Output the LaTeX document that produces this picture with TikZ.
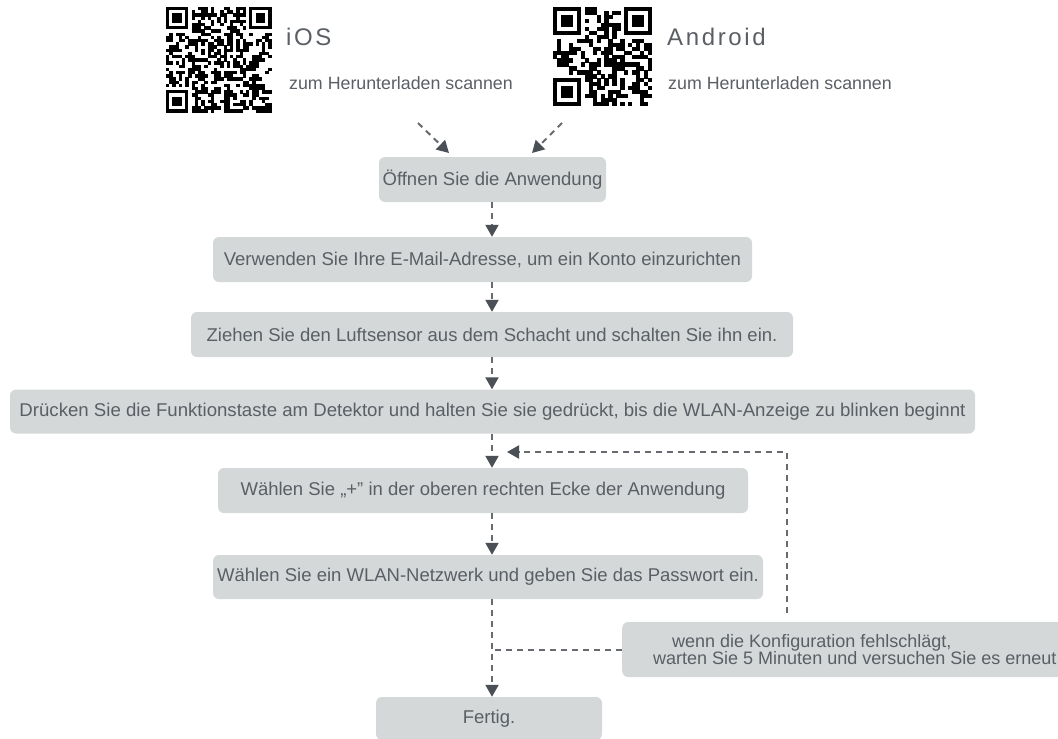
\documentclass[tikz,border=0pt]{standalone}
\usepackage{fontspec}
\setmainfont{Liberation Sans}
\usepackage{graphicx}
\usetikzlibrary{arrows.meta}
\definecolor{boxfill}{HTML}{D5D8D9}
\definecolor{txt}{HTML}{5A5F65}
\definecolor{arr}{HTML}{4B5057}
\definecolor{dashc}{HTML}{676B70}
\tikzset{
  stepbox/.style={fill=boxfill, draw=none, rounded corners=6pt, text=txt,
    font=\fontsize{18.5}{20}\selectfont, inner sep=0pt, anchor=center},
  conn/.style={draw=dashc, line width=2pt, dash pattern=on 6pt off 5pt,
    -{Triangle[width=13pt,length=12pt,color=arr,fill=arr]}},
  plainconn/.style={draw=dashc, line width=2pt, dash pattern=on 6pt off 5pt},
  title/.style={anchor=west, text=txt, inner sep=0pt,
    font=\fontsize{24}{28}\selectfont\addfontfeature{LetterSpace=11}},
  subtitle/.style={anchor=west, text=txt, inner sep=0pt, font=\fontsize{17.8}{20}\selectfont},
}
\newcommand\drawqr[5]{%
  \pgfmathsetseed{#5}%
  \pgfmathtruncatemacro\qrn{#3-1}%
  \foreach \i in {0,...,\qrn}{%
    \foreach \j in {0,...,\qrn}{%
      \pgfmathtruncatemacro\qrf{(\i<8)*(\j<8)+(\i<8)*(\j>\qrn-8)+(\i>\qrn-8)*(\j<8)}%
      \pgfmathsetmacro\qrv{rnd}%
      \ifnum\qrf=0 \ifdim\qrv pt<0.52pt
        \fill[black] ({#1+\i*#4},{#2+\j*#4}) rectangle ++({#4+0.25},{#4+0.25});
      \fi\fi
    }}%
  \foreach \fx/\fy in {0/0,1/0,0/1}{%
    \pgfmathsetmacro\qrx{#1+\fx*(#3-7)*#4}%
    \pgfmathsetmacro\qry{#2+\fy*(#3-7)*#4}%
    \fill[black] (\qrx,\qry) rectangle ++({7*#4},{7*#4});
    \fill[white] ({\qrx+#4},{\qry+#4}) rectangle ++({5*#4},{5*#4});
    \fill[black] ({\qrx+2*#4},{\qry+2*#4}) rectangle ++({3*#4},{3*#4});
  }%
}
\begin{document}
\begin{tikzpicture}[x=1pt,y=-1pt]
\useasboundingbox (0,0) rectangle (1058,739);
\fill[white] (0,0) rectangle (1058,739);

% QR codes
\drawqr{166}{7}{33}{3.2}{17}
\drawqr{553}{7}{25}{3.96}{42}

% headers
\node[title] (ios) at (286,37) {iOS};
\node[subtitle] (iossub) at (289,83) {zum Herunterladen scannen};
\node[title] (android) at (667,37) {Android};
\node[subtitle] (andsub) at (668,83) {zum Herunterladen scannen};

% steps
\node[stepbox, minimum width=227pt, minimum height=45pt] (b1) at (492.5,179.5) {Öffnen Sie die Anwendung};
\node[stepbox, minimum width=539pt, minimum height=45pt] (b2) at (482.5,259.5) {Verwenden Sie Ihre E-Mail-Adresse, um ein Konto einzurichten};
\node[stepbox, minimum width=602pt, minimum height=45pt] (b3) at (492,334.5) {Ziehen Sie den Luftsensor aus dem Schacht und schalten Sie ihn ein.};
\node[stepbox, minimum width=965pt, minimum height=44pt] (b4) at (492.5,411.5) {\resizebox{946pt}{\height}{Drücken Sie die Funktionstaste am Detektor und halten Sie sie gedrückt, bis die WLAN-Anzeige zu blinken beginnt}};
\node[stepbox, minimum width=530pt, minimum height=45pt] (b5) at (483,490.5) {Wählen Sie „+” in der oberen rechten Ecke der Anwendung};
\node[stepbox, minimum width=550pt, minimum height=44pt] (b6) at (488,577) {Wählen Sie ein WLAN-Netzwerk und geben Sie das Passwort ein.};
\node[stepbox, anchor=west, inner xsep=31pt, inner ysep=0pt, minimum height=55pt, align=left,
      font=\fontsize{18}{17.5}\selectfont] (b7) at (622,649.5)
      {\hspace*{19pt}wenn die Konfiguration fehlschlägt,\\warten Sie 5 Minuten und versuchen Sie es erneut};
\node[stepbox, minimum width=226pt, minimum height=43pt] (b8) at (489,718.5) {Fertig.};

% column and helper coordinates
\coordinate (col) at (492,0);
\coordinate (iosA) at (418,123);
\coordinate (iosB) at (449,153);
\coordinate (andA) at (562,123);
\coordinate (andB) at (532,153);
\coordinate (fbA) at (787,613);
\coordinate (fbB) at (787,452);
\coordinate (fbC) at (507,452);

% connectors
\draw[conn] (iosA) -- (iosB);
\draw[conn] (andA) -- (andB);
\draw[conn] (col |- b1.south) -- (col |- b2.north);
\draw[conn] (col |- b2.south) -- (col |- b3.north);
\draw[conn] (col |- b3.south) -- (col |- b4.north);
\draw[conn] (col |- b4.south) -- (col |- b5.north);
\draw[conn] (col |- b5.south) -- (col |- b6.north);
\draw[conn] (col |- b6.south) -- (col |- b8.north);
\draw[plainconn] (b7.west) -- (col |- b7.west);
\draw[conn] (fbA) -- (fbB) -- (fbC);
\end{tikzpicture}
\end{document}
